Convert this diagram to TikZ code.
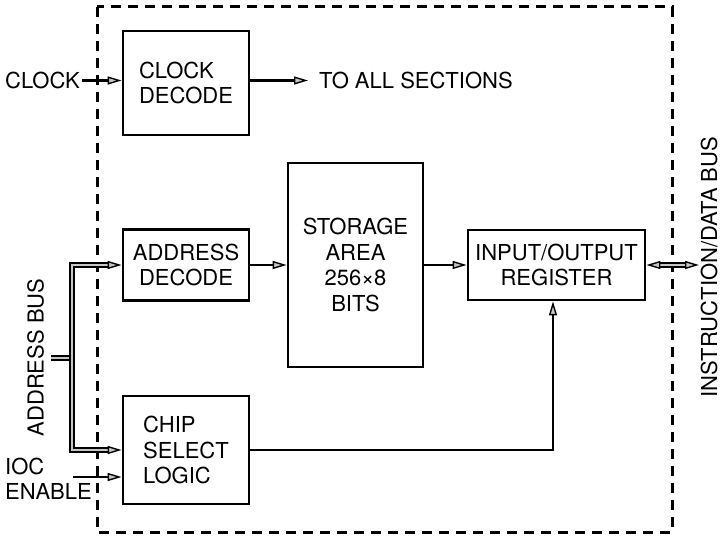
\documentclass[tikz,border=0pt]{standalone}
\usepackage{fontspec}
\setmainfont{TeX Gyre Heros}
\usetikzlibrary{arrows.meta}

\begin{document}
\begin{tikzpicture}[x=1pt,y=-1pt,
  font=\fontsize{22}{25.5}\selectfont,
  >={Triangle[length=14pt,width=8pt,fill=gray!45,line width=1.4pt]},
  blk/.style={draw, line width=2.8pt, inner sep=0pt},
  lbl/.style={inner sep=2pt},
  sig/.style={line width=2.2pt, ->},
  bus/.style={line width=1.8pt, double=gray!45, double distance=2.8pt},
  frame/.style={line width=3pt, dash pattern=on 10pt off 7pt}]
\useasboundingbox (0,0) rectangle (721,537);

% enclosure of the memory chip
\draw[frame] (97,7) rectangle (672,532);

% functional blocks
\node[blk, minimum width=126pt, minimum height=104pt, align=left] (clk) at (186,83) {CLOCK\\DECODE};
\node[blk, minimum width=126pt, minimum height=71pt, align=center] (adr) at (186,265) {ADDRESS\\DECODE};
\node[blk, minimum width=126pt, minimum height=108pt, align=left] (cs) at (186,450) {CHIP\\SELECT\\LOGIC};
\node[blk, minimum width=135pt, minimum height=204pt, align=center] (mem) at (355.5,265) {STORAGE\\AREA\\256×8\\BITS};
\node[blk, minimum width=177pt, minimum height=70pt, align=center] (io) at (556.5,265) {INPUT/OUTPUT\\REGISTER};

% external labels
\node[lbl, anchor=west] (clklbl) at (3,80.5) {CLOCK};
\node[lbl, anchor=west, inner xsep=11pt] (toall) at (308,80.5) {TO ALL SECTIONS};
\node[lbl, rotate=90] (ablbl) at (35.5,357.5) {ADDRESS BUS};
\node[lbl, anchor=west, align=left] (ioclbl) at (3,479) {IOC\\ENABLE};
\node[lbl, rotate=90, inner sep=0pt] (idblbl) at (709,267) {INSTRUCTION/DATA BUS};

% bus junction points
\coordinate (bt) at (72,265);
\coordinate (bb) at (72,450);
\coordinate (stub) at (51,358);
\coordinate (iocin) at (73,477);
\coordinate (csturn) at (553,450);
\coordinate (idbend) at (699,265);

% clock path
\draw[sig] (clklbl.east) -- (clk.west |- clklbl.east);
\draw[sig] (clk.east |- toall.west) -- (toall.west);

% address bus
\draw[bus] (stub) -- (stub -| bt);
\draw[bus, <->] (adr.west) -- (bt) -- (bb) -- (cs.west |- bb);

% data flow
\draw[sig] (adr.east) -- (mem.west |- adr.east);
\draw[sig] (mem.east |- io.west) -- (io.west);
\draw[bus, <->] (io.east) -- (idbend);

% chip enable and select
\draw[sig] (iocin) -- (cs.west |- iocin);
\draw[sig] (cs.east) -- (csturn) -- (csturn |- io.south);
\end{tikzpicture}
\end{document}
